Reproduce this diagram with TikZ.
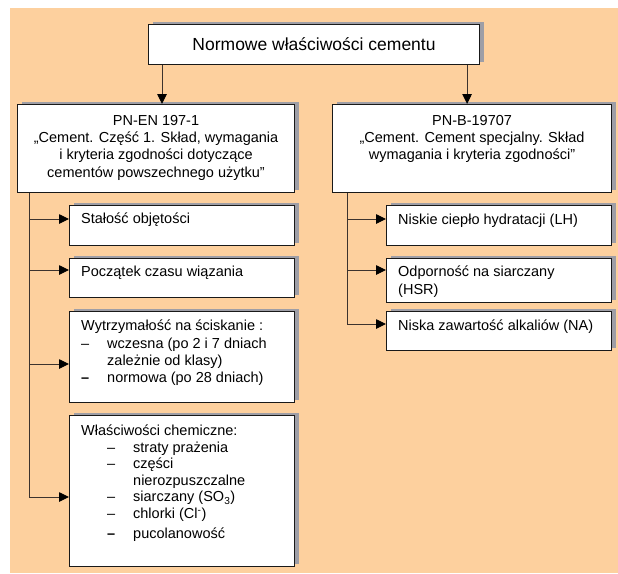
\documentclass[tikz,border=0pt]{standalone}
\usepackage{fontspec}
\setmainfont{Liberation Sans}
\usetikzlibrary{arrows.meta,shadows}
\definecolor{peach}{RGB}{253,208,158}
\definecolor{shadowgrey}{RGB}{158,158,166}
\definecolor{linegrey}{RGB}{60,50,45}
\tikzset{
  box/.style={draw=black!90, line width=1.1pt, fill=white, anchor=north west, inner sep=0pt,
    drop shadow={shadow xshift=4pt, shadow yshift=3pt, fill=shadowgrey, opacity=1}},
  txt/.style={anchor=north west, inner sep=0pt, align=left, font=\fontsize{14.5}{17.2}\selectfont},
  hdr/.style={anchor=north, inner sep=0pt, align=center, font=\fontsize{14.5}{17.3}\selectfont},
  arr/.style={draw=linegrey, line width=0.9pt, -{Triangle[length=10pt,width=9.5pt,color=black]}}
}

\begin{document}
\begin{tikzpicture}[x=1pt,y=-1pt]
\useasboundingbox (0,0) rectangle (618,573);
\fill[peach] (10,8) rectangle (618,573);

\node[box, minimum width=331pt, minimum height=40pt] (top) at (148,24) {};
\node[inner sep=0pt, font=\fontsize{17.5}{21}\selectfont] (toptxt) at (top.center) {Normowe właściwości cementu};

\node[box, minimum width=277pt, minimum height=88pt] (pnen) at (17,104) {};
\node[hdr] (pnentxt) at ([yshift=-11pt]pnen.north) {PN-EN 197-1\\„Cement. Część 1. Skład, wymagania\\i kryteria zgodności dotyczące\\cementów powszechnego użytku”};
\node[box, minimum width=279pt, minimum height=88pt] (pnb) at (332,104) {};
\node[hdr] (pnbtxt) at ([yshift=-11pt]pnb.north) {PN-B-19707\\„Cement. Cement specjalny. Skład\\wymagania i kryteria zgodności”};

\node[box, minimum width=225pt, minimum height=40pt] (stal) at (69,205) {};
\node[txt] (staltxt) at ([xshift=12pt, yshift=-8pt]stal.north west) {Stałość objętości};
\node[box, minimum width=225pt, minimum height=39pt] (pocz) at (69,258) {};
\node[txt] (pocztxt) at ([xshift=12pt, yshift=-8pt]pocz.north west) {Początek czasu wiązania};
\node[box, minimum width=225pt, minimum height=91pt] (wytrz) at (69,311) {};
\node[txt] (wytrztxt) at ([xshift=12pt, yshift=-9pt]wytrz.north west) {Wytrzymałość na ściskanie :\\
  \makebox[26pt][l]{–}wczesna (po 2 i 7 dniach\\
  \hspace*{26pt}zależnie od klasy)\\
  \makebox[26pt][l]{\textbf{–}}normowa (po 28 dniach)};
\node[box, minimum width=225pt, minimum height=151pt] (chem) at (69,415) {};
\node[txt, font=\fontsize{14.5}{16.5}\selectfont] (chemtxt) at ([xshift=12pt, yshift=-10pt]chem.north west) {Właściwości chemiczne:\\
  \hspace*{26pt}\makebox[26pt][l]{–}straty prażenia\\
  \hspace*{26pt}\makebox[26pt][l]{–}części\\
  \hspace*{52pt}nierozpuszczalne\\
  \hspace*{26pt}\makebox[26pt][l]{–}siarczany (SO\textsubscript{3})\\
  \hspace*{26pt}\makebox[26pt][l]{–}chlorki (Cl\textsuperscript{-})\\[3.5pt]
  \hspace*{26pt}\makebox[26pt][l]{\textbf{–}}pucolanowość};

\node[box, minimum width=225pt, minimum height=40pt] (lh) at (386,205) {};
\node[txt] (lhtxt) at ([xshift=12pt, yshift=-9pt]lh.north west) {Niskie ciepło hydratacji (LH)};
\node[box, minimum width=225pt, minimum height=44pt] (hsr) at (386,258) {};
\node[txt] (hsrtxt) at ([xshift=12pt, yshift=-8pt]hsr.north west) {Odporność na siarczany\\(HSR)};
\node[box, minimum width=225pt, minimum height=39pt] (na) at (386,311) {};
\node[txt] (natxt) at ([xshift=12pt, yshift=-9pt]na.north west) {Niska zawartość alkaliów (NA)};

\coordinate (tl) at ([xshift=14pt]top.south west); \coordinate (tr) at ([xshift=-13pt]top.south east);
\draw[arr] (tl) -- (tl |- pnen.north);
\draw[arr] (tr) -- (tr |- pnb.north);

\coordinate (ls) at ([xshift=12pt]pnen.south west); \coordinate (rs) at ([xshift=15pt]pnb.south west);
\coordinate (stal-in) at ([yshift=-14pt]stal.north west); \coordinate (pocz-in) at ([yshift=-12pt]pocz.north west);
\coordinate (wytrz-in) at ([yshift=-53pt]wytrz.north west); \coordinate (chem-in) at ([yshift=-82pt]chem.north west);
\coordinate (lh-in) at ([yshift=-14pt]lh.north west); \coordinate (hsr-in) at ([yshift=-12pt]hsr.north west);
\coordinate (na-in) at ([yshift=-13pt]na.north west);

\draw[arr] (ls) |- (chem-in);
\draw[arr] (ls |- stal-in) -- (stal-in);
\draw[arr] (ls |- pocz-in) -- (pocz-in);
\draw[arr] (ls |- wytrz-in) -- (wytrz-in);

\draw[arr] (rs) |- (na-in);
\draw[arr] (rs |- lh-in) -- (lh-in);
\draw[arr] (rs |- hsr-in) -- (hsr-in);
\end{tikzpicture}
\end{document}
